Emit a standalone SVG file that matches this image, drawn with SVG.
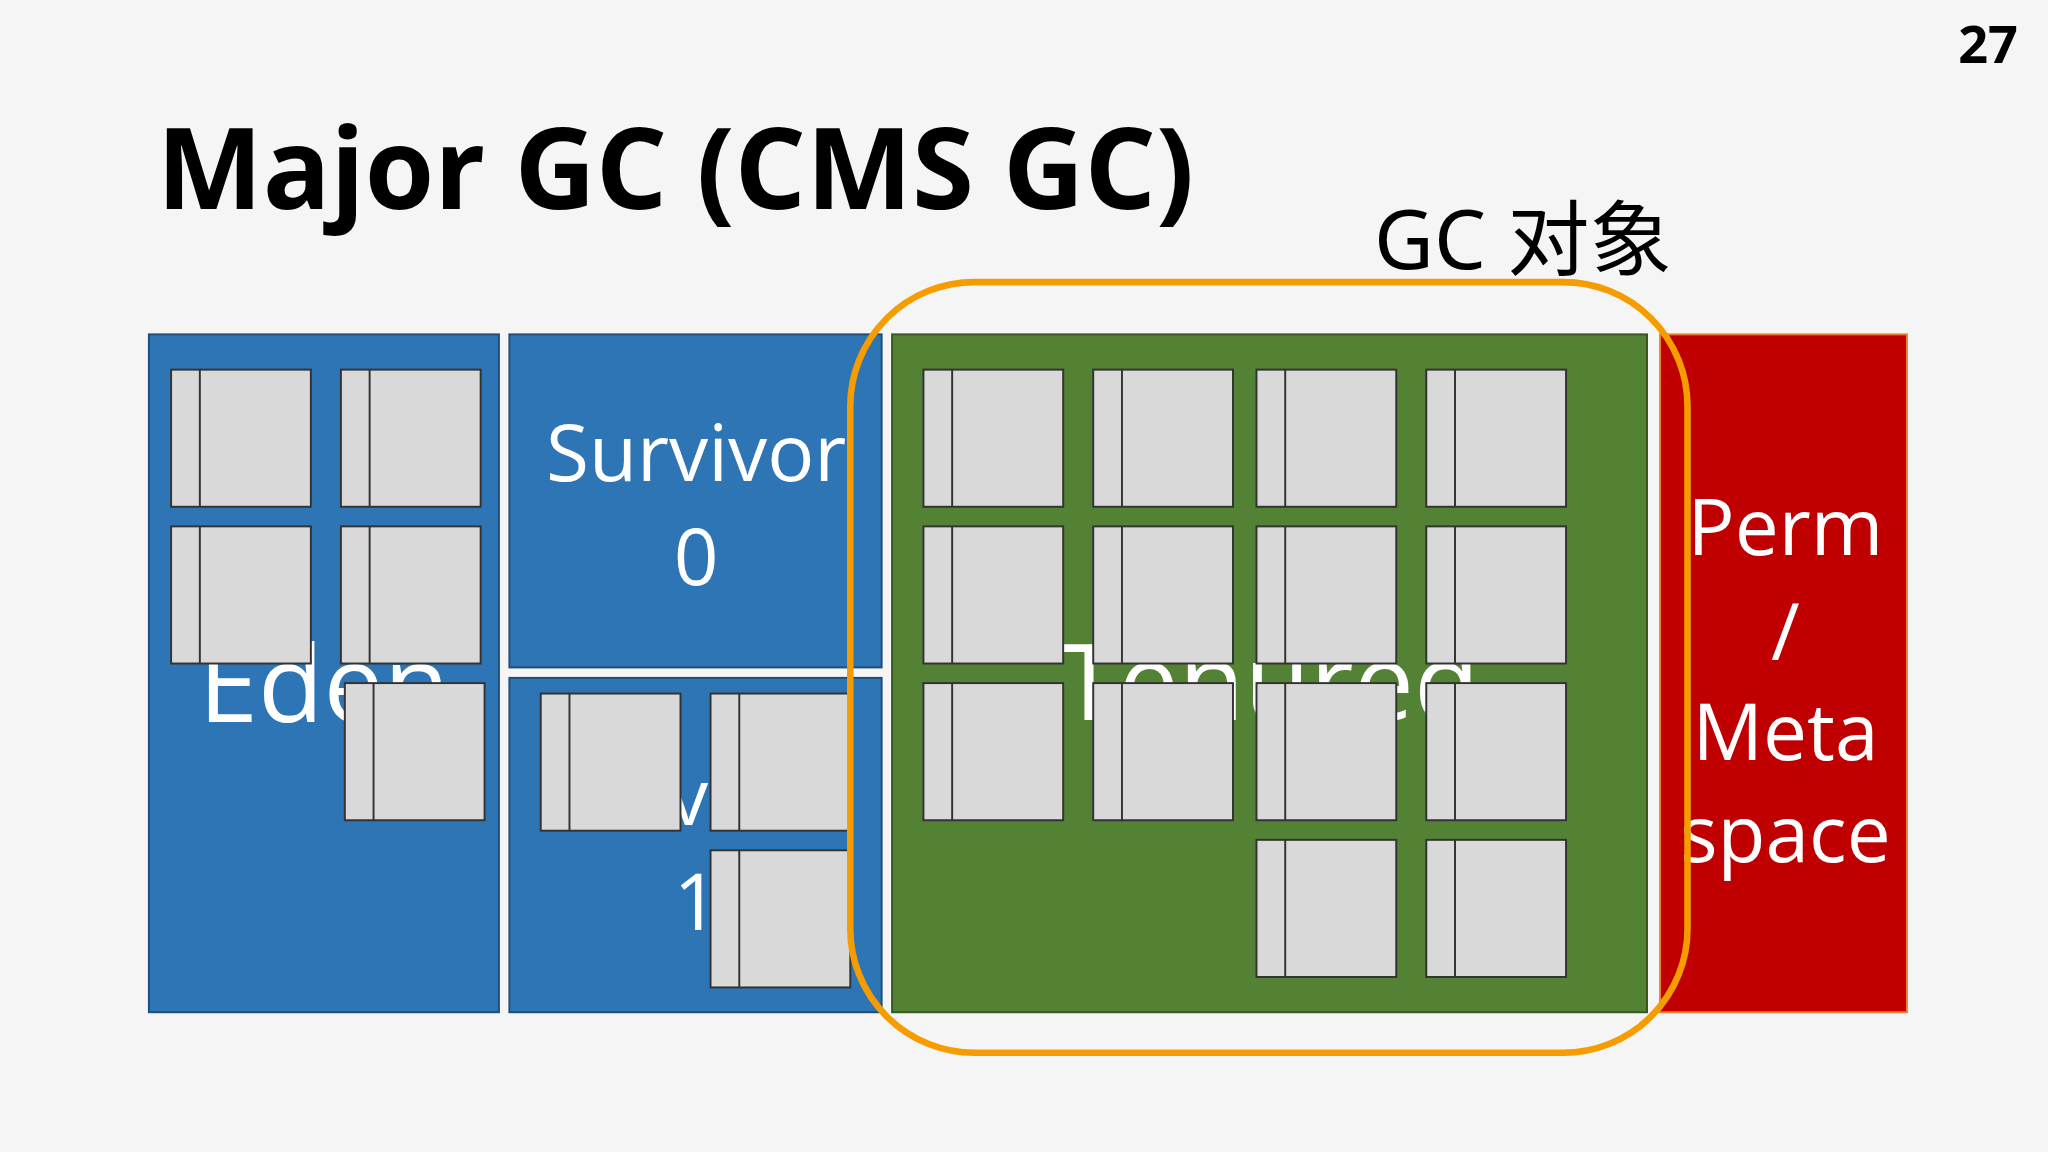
<svg xmlns="http://www.w3.org/2000/svg" width="2048" height="1152" viewBox="0 0 2048 1152">
<defs>
<style>
.o{fill:#d9d9d9;stroke:#333;stroke-width:1.5}
.w{fill:#fff;font-family:"Open Sans","Noto Sans",sans-serif;text-anchor:middle}
.r{stroke:#1f4e79;stroke-width:1.5}
</style>
<g id="obj"><rect class="o" x="0" y="0" width="107" height="105"/><line x1="22" y1="0" x2="22" y2="105" stroke="#333" stroke-width="1.5"/></g>
<clipPath id="s0"><rect x="390" y="256" width="285" height="255"/></clipPath>
</defs>
<rect width="2048" height="1152" fill="#f5f5f5"/>
<g transform="scale(1.30612)">
<text x="1545" y="48" font-family="'Open Sans','Noto Sans',sans-serif" font-weight="bold" font-size="40" text-anchor="end">27</text>
<text x="120" y="160" font-family="'Open Sans','Noto Sans',sans-serif" font-weight="bold" font-size="86">Major GC (CMS GC)</text>
<text x="1052" y="206" font-family="'Noto Sans','Noto Sans CJK SC',sans-serif" font-size="63">GC 对象</text>
<g id="eden"><rect class="r" x="114" y="256" width="268" height="519" fill="#2e75b6"/><text class="w" x="248" y="553" font-size="82">Eden</text></g>
<g id="s0g"><rect class="r" x="390" y="256" width="285" height="255" fill="#2e75b6"/><g clip-path="url(#s0)"><text class="w" x="533" y="368" font-size="60">Survivor</text></g><text class="w" x="533" y="448" font-size="60">0</text></g>
<g id="s1g"><rect class="r" x="390" y="519" width="285" height="256" fill="#2e75b6"/><text class="w" x="533" y="632" font-size="60">Survivor</text><text class="w" x="533" y="712" font-size="60">1</text></g>
<g id="ten"><rect x="683" y="256" width="578" height="519" fill="#548235" stroke="#385723" stroke-width="1.5"/><text class="w" x="972" y="551" font-size="82">Tenured</text></g>
<g id="perm"><rect x="1271" y="256" width="189" height="519" fill="#c00000" stroke="#ed7d31" stroke-width="1.5"/><text class="w" x="1367" y="425" font-size="60">Perm</text><text class="w" x="1367" y="505" font-size="60">/</text><text class="w" x="1367" y="582" font-size="60">Meta</text><text class="w" x="1367" y="660" font-size="60">space</text></g>
<g id="objects">
<use href="#obj" x="131" y="283"/><use href="#obj" x="261" y="283"/><use href="#obj" x="131" y="403"/><use href="#obj" x="261" y="403"/><use href="#obj" x="264" y="523"/>
<use href="#obj" x="414" y="531"/><use href="#obj" x="544" y="531"/><use href="#obj" x="544" y="651"/>
<use href="#obj" x="707" y="283"/><use href="#obj" x="837" y="283"/><use href="#obj" x="962" y="283"/><use href="#obj" x="1092" y="283"/>
<use href="#obj" x="707" y="403"/><use href="#obj" x="837" y="403"/><use href="#obj" x="962" y="403"/><use href="#obj" x="1092" y="403"/>
<use href="#obj" x="707" y="523"/><use href="#obj" x="837" y="523"/><use href="#obj" x="962" y="523"/><use href="#obj" x="1092" y="523"/>
<use href="#obj" x="962" y="643"/><use href="#obj" x="1092" y="643"/>
</g>
<g id="gcTarget"><rect x="651" y="216" width="641" height="590" rx="95" fill="none" stroke="#f59c00" stroke-width="5"/></g>
</g>
</svg>
